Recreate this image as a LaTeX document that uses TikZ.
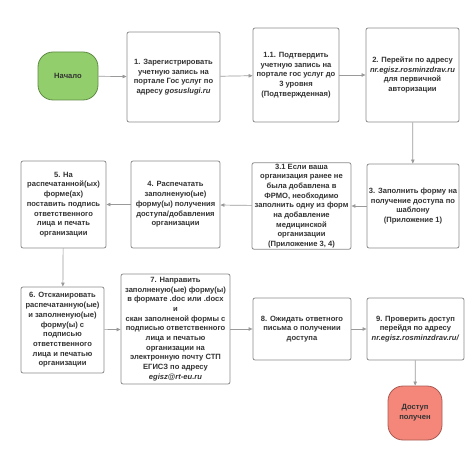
\documentclass[tikz,border=0pt]{standalone}
\usepackage{fontspec}
\setmainfont{Liberation Sans}
\usetikzlibrary{arrows.meta}
\definecolor{txt}{HTML}{333333}
\definecolor{edge}{HTML}{8A8A8A}
\definecolor{wire}{HTML}{9A9A9A}
\definecolor{startfill}{HTML}{92CF6C}
\definecolor{startedge}{HTML}{5E8A45}
\definecolor{endfill}{HTML}{F4877A}
\definecolor{endedge}{HTML}{A85A52}
\tikzset{
  stepbox/.style={draw=edge, line width=0.8pt, rounded corners=2pt, fill=white,
    align=center, text=txt, font=\bfseries\fontsize{7.6}{9.7}\selectfont,
    inner sep=1pt},
  term/.style={stepbox, rounded corners=15pt},
  flow/.style={draw=wire, line width=0.7pt, -{Triangle[length=4pt,width=3.4pt]}}
}
\begin{document}
\begin{tikzpicture}[x=1pt,y=1pt]
\useasboundingbox (0,0) rectangle (474,472);

% Top row
\node[term, fill=startfill, draw=startedge, minimum width=60, minimum height=48] (start) at (68,396) {Начало};
\node[stepbox, minimum width=93, minimum height=90] (reg) at (173.5,395)
  {1. Зарегистрировать\\учетную запись на\\портале Гос услуг по\\адресу \textit{gosuslugi.ru}};
\node[stepbox, minimum width=86, minimum height=94] (conf) at (296,397)
  {1.1. Подтвердить\\учетную запись на\\портале гос услуг до\\3 уровня\\(Подтвержденная)};
\node[stepbox, minimum width=93, minimum height=94] (auth) at (412.5,397)
  {2. Перейти по адресу\\\textit{nr.egisz.rosminzdrav.ru}\\для первичной\\авторизации};

% Middle row
\node[stepbox, minimum width=92, minimum height=84] (fill) at (413,266)
  {3. Заполнить форму на\\получение доступа по\\шаблону\\(Приложение 1)};
\node[stepbox, minimum width=99, minimum height=84] (frmo) at (301.5,266)
  {3.1 Если ваша\\организация ранее не\\была добавлена в\\ФРМО, необходимо\\заполнить одну из форм\\на добавление\\медицинской\\организации\\(Приложение 3, 4)};
\node[stepbox, minimum width=89, minimum height=87] (print) at (175.5,267.5)
  {4. Распечатать\\заполненую(ые)\\форму(ы) получения\\доступа/добавления\\организации};
\node[stepbox, minimum width=85, minimum height=87] (sign) at (63.5,267.5)
  {5. На\\распечатанной(ых)\\форме(ах)\\поставить подпись\\ответственного\\лица и печать\\организации};

% Bottom row
\node[stepbox, minimum width=83, minimum height=86] (scan) at (62.5,142)
  {6. Отсканировать\\распечатанную(ые)\\и заполненую(ые)\\форму(ы) с\\подписью\\ответственного\\лица и печатью\\организации};
\node[stepbox, minimum width=109, minimum height=110] (mail) at (175.5,143)
  {7. Направить\\заполненую(ые) форму(ы)\\в формате .doc или .docx\\и\\скан заполненой формы с\\подписью ответственного\\лица и печатью\\организации на\\электронную почту СТП\\ЕГИСЗ по адресу\\\textit{egisz@rt-eu.ru}};
\node[stepbox, minimum width=98, minimum height=62] (wait) at (302,143)
  {8. Ожидать ответного\\письма о получении\\доступа};
\node[stepbox, minimum width=97, minimum height=62] (check) at (415.5,143)
  {9. Проверить доступ\\перейдя по адресу\\\textit{nr.egisz.rosminzdrav.ru/}};

% End
\node[term, fill=endfill, draw=endedge, minimum width=54, minimum height=54] (done) at (415,59) {Доступ\\получен};

% Connectors
\draw[flow] (start) -- (reg);
\draw[flow] (reg) -- (conf);
\draw[flow] (conf) -- (auth);
\draw[flow] (auth) -- (fill);
\draw[flow] (fill) -- (frmo);
\draw[flow] (frmo) -- (print);
\draw[flow] (print) -- (sign);
\draw[flow] (sign) -- (scan);
\draw[flow] (scan) -- (mail);
\draw[flow] (mail) -- (wait);
\draw[flow] (wait) -- (check);
\draw[flow] (check) -- (done);
\end{tikzpicture}
\end{document}
